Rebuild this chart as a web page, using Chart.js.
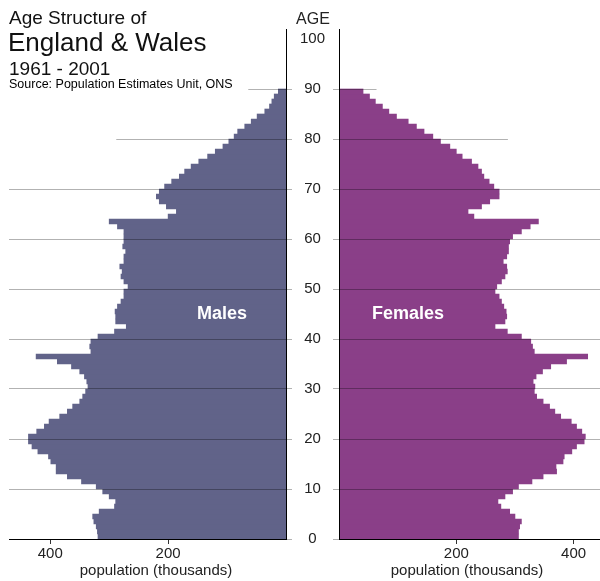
<!DOCTYPE html>
<html>
<head>
<meta charset="utf-8">
<title>Age Structure of England &amp; Wales</title>
<script src="https://cdn.jsdelivr.net/npm/chart.js@4.4.1/dist/chart.umd.min.js"></script>
<style>
  html, body { margin: 0; padding: 0; background: #fff; }
  body { width: 600px; height: 581px; position: relative; overflow: hidden;
         font-family: 'Liberation Sans', Arial, sans-serif; color: #111; }
  canvas { position: absolute; top: 0; }
  #malesChart { left: 0; }
  #femalesChart { left: 290px; }
  .txt { position: absolute; white-space: nowrap; line-height: 1; }
  .mid { transform: translateX(-50%); }
  .inbar { color: #fff; font-weight: bold; font-size: 18px; }
</style>
</head>
<body>
<canvas id="malesChart" width="295" height="581"></canvas>
<canvas id="femalesChart" width="310" height="581"></canvas>

<div class="txt" style="left:9px;top:8px;font-size:19px">Age Structure of</div>
<div class="txt" style="left:8px;top:29px;font-size:26px">England &amp; Wales</div>
<div class="txt" style="left:9px;top:59px;font-size:19px">1961 - 2001</div>
<div class="txt" style="left:9px;top:78px;font-size:12.5px;color:#000">Source: Population Estimates Unit, ONS</div>
<div class="txt mid" style="left:313px;top:11px;font-size:16px;color:#222">AGE</div>
<div class="txt mid inbar" style="left:222px;top:304px">Males</div>
<div class="txt mid inbar" style="left:408px;top:304px">Females</div>
<div class="txt mid" style="left:156px;top:562px;font-size:15px;color:#222">population (thousands)</div>
<div class="txt mid" style="left:467px;top:562px;font-size:15px;color:#222">population (thousands)</div>

<script>
// single years of age, 0 to 89
const ages = [
  0, 1, 2, 3, 4, 5, 6, 7, 8, 9,
  10, 11, 12, 13, 14, 15, 16, 17, 18, 19,
  20, 21, 22, 23, 24, 25, 26, 27, 28, 29,
  30, 31, 32, 33, 34, 35, 36, 37, 38, 39,
  40, 41, 42, 43, 44, 45, 46, 47, 48, 49,
  50, 51, 52, 53, 54, 55, 56, 57, 58, 59,
  60, 61, 62, 63, 64, 65, 66, 67, 68, 69,
  70, 71, 72, 73, 74, 75, 76, 77, 78, 79,
  80, 81, 82, 83, 84, 85, 86, 87, 88, 89
];

// population in thousands, by age
const males = [
  319, 320, 322, 326, 328, 317, 291, 289, 300, 311,
  322, 347, 371, 390, 390, 399, 403, 421, 431, 437,
  437, 423, 410, 402, 384, 371, 362, 350, 345, 340,
  336, 338, 342, 350, 364, 388, 424, 331, 333, 331,
  319, 291, 271, 289, 289, 290, 286, 280, 275, 275,
  268, 275, 280, 278, 282, 275, 275, 272, 277, 275,
  275, 275, 286, 300, 200, 186, 203, 215, 220, 215,
  206, 194, 181, 172, 161, 148, 133, 120, 107, 97,
  88, 82, 70, 59, 49, 36, 28, 24, 20, 13
];

const females = [
  306, 306, 308, 311, 300, 291, 276, 271, 283, 296,
  306, 329, 348, 371, 370, 382, 384, 397, 405, 418,
  420, 414, 405, 396, 378, 368, 359, 348, 337, 333,
  334, 331, 336, 347, 361, 388, 424, 333, 330, 327,
  311, 287, 266, 283, 286, 285, 281, 277, 273, 266,
  269, 277, 283, 287, 286, 280, 286, 289, 289, 291,
  296, 311, 326, 340, 230, 220, 243, 257, 273, 273,
  264, 256, 247, 243, 237, 226, 210, 200, 189, 173,
  160, 145, 132, 118, 98, 85, 74, 62, 52, 41
];

const ageTicks = [0, 10, 20, 30, 40, 50, 60, 70, 80, 90, 100];
const popTicks = [200, 400];
// the 80 and 90 lines only run part way out from the axis (reach in thousands)
const shortLines = [[90, 64], [80, 288]];

Chart.defaults.font.family = "'Liberation Sans', Arial, sans-serif";
Chart.defaults.color = '#222';

const gridColor = 'rgba(0,0,0,0.3)';

function ageGridColor(ctx) {
  const v = ctx.tick ? ctx.tick.value : null;
  if (v === 100) return 'rgba(0,0,0,0)';
  if (shortLines.some(s => s[0] === v)) return 'rgba(0,0,0,0)';
  return gridColor;
}

const shortLinePlugin = {
  id: 'shortLines',
  afterDatasetsDraw(chart) {
    const { ctx, scales: { x, y } } = chart;
    ctx.save();
    ctx.strokeStyle = gridColor;
    ctx.lineWidth = 1;
    shortLines.forEach(([age, reach]) => {
      const py = Math.round(y.getPixelForValue(age)) + 0.5;
      const x0 = x.getPixelForValue(0);
      const x1 = x.getPixelForValue(reach);
      const out = x0 + 6 * Math.sign(x0 - x1);
      ctx.beginPath();
      ctx.moveTo(x1, py);
      ctx.lineTo(out, py);
      ctx.stroke();
    });
    ctx.restore();
  }
};

function makePyramid(canvasId, values, color, side) {
  const left = side === 'left';
  return new Chart(document.getElementById(canvasId), {
    type: 'bar',
    data: {
      datasets: [{
        data: values.map((v, i) => ({ x: v, y: ages[i] + 0.5 })),
        backgroundColor: color,
        borderWidth: 0,
        barPercentage: 1,
        categoryPercentage: 1
      }]
    },
    plugins: [shortLinePlugin],
    options: {
      indexAxis: 'y',
      responsive: false,
      animation: false,
      events: [],
      layout: { padding: left ? { left: 9, top: 29, right: 3, bottom: 0 } : { left: 0, top: 29, right: 0, bottom: 0 } },
      plugins: { legend: { display: false }, tooltip: { enabled: false } },
      scales: {
        x: {
          type: 'linear',
          position: 'bottom',
          reverse: left,
          min: 0,
          max: left ? 470 : 445,
          afterBuildTicks: s => { s.ticks = popTicks.map(v => ({ value: v })); },
          afterFit: s => { s.height = 42; },
          ticks: { font: { size: 15 }, padding: 1, maxRotation: 0 },
          grid: { drawOnChartArea: false, drawTicks: true, tickLength: 5, color: '#333' },
          border: { color: '#000', width: 1 }
        },
        y: {
          type: 'linear',
          position: left ? 'right' : 'left',
          min: 0,
          max: 102,
          offset: false,
          afterBuildTicks: s => { s.ticks = ageTicks.map(v => ({ value: v })); },
          afterFit: s => { s.width = left ? 6 : 49; },
          ticks: { display: !left, font: { size: 15 }, padding: 8, crossAlign: 'center' },
          grid: { offset: false, color: ageGridColor, tickLength: 6, drawTicks: true, z: 1 },
          border: { color: '#000', width: 1, z: 2 }
        }
      }
    }
  });
}

makePyramid('malesChart', males, '#616389', 'left');
makePyramid('femalesChart', females, '#8a3f88', 'right');
</script>
</body>
</html>
